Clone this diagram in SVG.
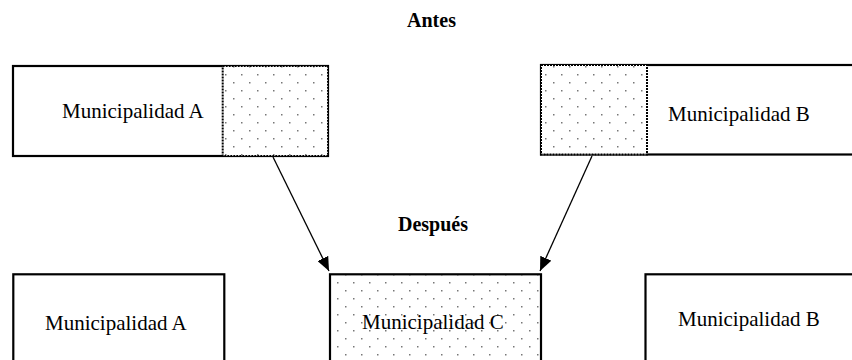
<svg xmlns="http://www.w3.org/2000/svg" width="852" height="360" viewBox="0 0 852 360">
<defs>
<pattern id="dots" x="0" y="0" width="16" height="16" patternUnits="userSpaceOnUse">
<rect x="0" y="0" width="16" height="16" fill="#fff"/>
<rect x="9" y="2" width="1.5" height="1.5" fill="#777"/>
<rect x="1" y="10" width="1.5" height="1.5" fill="#777"/>
</pattern>
<marker id="arr" markerWidth="14" markerHeight="12" refX="14" refY="6" orient="auto" markerUnits="userSpaceOnUse">
<path d="M0,0 L14,6 L0,12 Z" fill="#000"/>
</marker>
</defs>
<style>
.box{fill:#fff;stroke:#000;stroke-width:2.2}
.shade{fill:url(#dots);stroke:#000;stroke-width:2;stroke-dasharray:2 1}
.lbl{font-family:"Liberation Serif","Times New Roman",serif;font-size:21px;fill:#000}
.ttl{font-family:"Liberation Serif","Times New Roman",serif;font-size:20px;font-weight:bold;fill:#000;text-anchor:middle}
.conn{stroke:#000;stroke-width:1.3;fill:none}
</style>
<rect width="852" height="360" fill="#fff"/>
<text class="ttl" x="431.5" y="27">Antes</text>
<text class="ttl" x="433" y="231">Después</text>
<g id="top-a">
<rect class="box" x="13" y="66" width="315" height="90"/>
<rect class="shade" x="222.7" y="66" width="105.3" height="90"/>
<text class="lbl" x="62" y="118">Municipalidad A</text>
</g>
<g id="top-b">
<rect class="box" x="541" y="65" width="316" height="89.5"/>
<rect class="shade" x="541" y="65" width="106" height="89.5"/>
<text class="lbl" x="668" y="121">Municipalidad B</text>
</g>
<g id="bottom-a">
<rect class="box" x="13.3" y="274.3" width="211" height="100"/>
<text class="lbl" x="45" y="330">Municipalidad A</text>
</g>
<g id="bottom-c">
<rect class="box" x="330" y="274.3" width="211" height="100" fill="url(#dots)" style="fill:url(#dots)"/>
<text class="lbl" x="362" y="329">Municipalidad C</text>
</g>
<g id="bottom-b">
<rect class="box" x="645.5" y="274.3" width="212" height="100"/>
<text class="lbl" x="678" y="326">Municipalidad B</text>
</g>
<g id="connectors">
<line class="conn" x1="273" y1="157" x2="329" y2="271" marker-end="url(#arr)"/>
<line class="conn" x1="592" y1="156" x2="540" y2="271" marker-end="url(#arr)"/>
</g>
</svg>
